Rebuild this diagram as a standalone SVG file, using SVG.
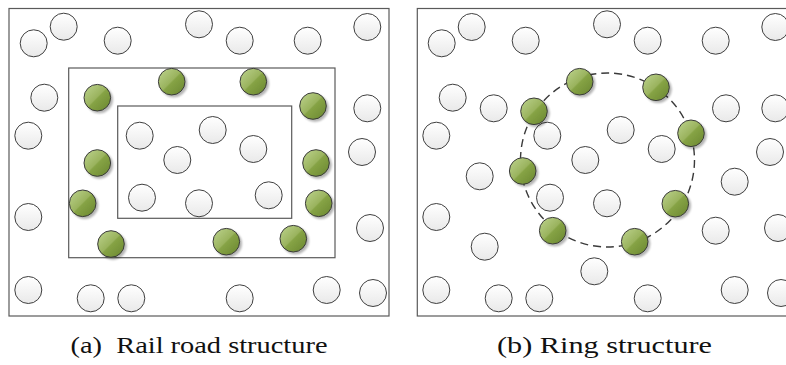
<svg xmlns="http://www.w3.org/2000/svg" width="786" height="365" viewBox="0 0 786 365">
<defs>
<linearGradient id="gw" x1="0" y1="0" x2="0" y2="1">
<stop offset="0" stop-color="#ffffff"/>
<stop offset="1" stop-color="#e9e9e9"/>
</linearGradient>
<linearGradient id="gg" x1="0.15" y1="0.15" x2="0.85" y2="0.85">
<stop offset="0" stop-color="#b3ca80"/>
<stop offset="0.47" stop-color="#9ab35e"/>
<stop offset="0.53" stop-color="#86a345"/>
<stop offset="1" stop-color="#728f36"/>
</linearGradient>
<filter id="sh" x="-30%" y="-30%" width="170%" height="170%">
<feGaussianBlur in="SourceAlpha" stdDeviation="1.2"/>
<feOffset dx="1.8" dy="1.8" result="b"/>
<feComponentTransfer><feFuncA type="linear" slope="0.3"/></feComponentTransfer>
<feMerge><feMergeNode/><feMergeNode in="SourceGraphic"/></feMerge>
</filter>
</defs>
<style>
.w{fill:url(#gw);stroke:#3f3f3f;stroke-width:1}
.g{fill:url(#gg);stroke:#3a3a3a;stroke-width:1;filter:url(#sh)}
.frame{fill:none;stroke:#5a5a5a;stroke-width:1.2}
.ring{fill:none;stroke:#3a3a3a;stroke-width:1.4;stroke-dasharray:8 5}
.cap{font-family:"Liberation Serif","DejaVu Serif",serif;font-size:23px;fill:#111}
</style>
<g id="panel-a">
<rect class="frame" x="9" y="8.5" width="380" height="307.5"/>
<rect class="frame" x="68.7" y="68" width="266.3" height="189.7"/>
<rect class="frame" x="117.7" y="106" width="174" height="112.3"/>
<g id="a-white">
<circle class="w" cx="33.7" cy="43.3" r="13.5"/>
<circle class="w" cx="63.7" cy="26.7" r="13.5"/>
<circle class="w" cx="117.7" cy="40.7" r="13.5"/>
<circle class="w" cx="199" cy="24.3" r="13.5"/>
<circle class="w" cx="239.7" cy="40.7" r="13.5"/>
<circle class="w" cx="307.7" cy="40.7" r="13.5"/>
<circle class="w" cx="367.3" cy="27" r="13.5"/>
<circle class="w" cx="44.3" cy="97.7" r="13.5"/>
<circle class="w" cx="28.3" cy="135.7" r="13.5"/>
<circle class="w" cx="367.3" cy="108.3" r="13.5"/>
<circle class="w" cx="362" cy="152" r="13.5"/>
<circle class="w" cx="28.3" cy="217" r="13.5"/>
<circle class="w" cx="370" cy="228" r="13.5"/>
<circle class="w" cx="28.3" cy="290" r="13.5"/>
<circle class="w" cx="90.7" cy="298.3" r="13.5"/>
<circle class="w" cx="131.3" cy="298.3" r="13.5"/>
<circle class="w" cx="239.7" cy="298.3" r="13.5"/>
<circle class="w" cx="326.7" cy="290" r="13.5"/>
<circle class="w" cx="373" cy="293" r="13.5"/>
<circle class="w" cx="139.7" cy="135.7" r="13.5"/>
<circle class="w" cx="212.7" cy="130" r="13.5"/>
<circle class="w" cx="177.3" cy="160" r="13.5"/>
<circle class="w" cx="253.3" cy="149" r="13.5"/>
<circle class="w" cx="142" cy="197.7" r="13.5"/>
<circle class="w" cx="199" cy="203.3" r="13.5"/>
<circle class="w" cx="268.7" cy="195.3" r="13.5"/>
</g>
<g id="a-green">
<circle class="g" cx="171.7" cy="81.7" r="13.3"/>
<circle class="g" cx="253.3" cy="81.7" r="13.3"/>
<circle class="g" cx="97.3" cy="97.7" r="13.3"/>
<circle class="g" cx="313" cy="106" r="13.3"/>
<circle class="g" cx="97.3" cy="163" r="13.3"/>
<circle class="g" cx="316" cy="163" r="13.3"/>
<circle class="g" cx="82.7" cy="203.3" r="13.3"/>
<circle class="g" cx="318.7" cy="203.3" r="13.3"/>
<circle class="g" cx="111" cy="244" r="13.3"/>
<circle class="g" cx="226.3" cy="241.7" r="13.3"/>
<circle class="g" cx="293.3" cy="238.7" r="13.3"/>
</g>
<text class="cap" x="199" y="353" text-anchor="middle" textLength="257" lengthAdjust="spacingAndGlyphs" xml:space="preserve">(a)  Rail road structure</text>
</g>
<g id="panel-b">
<rect class="frame" x="417.3" y="8.5" width="400" height="307.5"/>
<g id="connectors">
<circle class="ring" cx="607.5" cy="160" r="87"/>
</g>
<g id="b-white">
<circle class="w" cx="441.7" cy="43.3" r="13.5"/>
<circle class="w" cx="471.7" cy="27" r="13.5"/>
<circle class="w" cx="525.7" cy="40.7" r="13.5"/>
<circle class="w" cx="607" cy="24.3" r="13.5"/>
<circle class="w" cx="647.7" cy="40.7" r="13.5"/>
<circle class="w" cx="715.7" cy="40.7" r="13.5"/>
<circle class="w" cx="775.3" cy="27" r="13.5"/>
<circle class="w" cx="452.7" cy="97.7" r="13.5"/>
<circle class="w" cx="493.7" cy="108.3" r="13.5"/>
<circle class="w" cx="436.3" cy="135.7" r="13.5"/>
<circle class="w" cx="547.3" cy="135.7" r="13.5"/>
<circle class="w" cx="620.7" cy="130" r="13.5"/>
<circle class="w" cx="661.7" cy="149" r="13.5"/>
<circle class="w" cx="726" cy="108.3" r="13.5"/>
<circle class="w" cx="775.3" cy="108.3" r="13.5"/>
<circle class="w" cx="585.3" cy="160" r="13.5"/>
<circle class="w" cx="770" cy="152" r="13.5"/>
<circle class="w" cx="479.7" cy="176.3" r="13.5"/>
<circle class="w" cx="734.7" cy="181.7" r="13.5"/>
<circle class="w" cx="550" cy="197.7" r="13.5"/>
<circle class="w" cx="607" cy="203.3" r="13.5"/>
<circle class="w" cx="436.3" cy="217" r="13.5"/>
<circle class="w" cx="778" cy="228" r="13.5"/>
<circle class="w" cx="715.7" cy="230.7" r="13.5"/>
<circle class="w" cx="484.7" cy="246.7" r="13.5"/>
<circle class="w" cx="594.3" cy="271.3" r="13.5"/>
<circle class="w" cx="436.3" cy="290" r="13.5"/>
<circle class="w" cx="498.7" cy="298.3" r="13.5"/>
<circle class="w" cx="539.3" cy="298.3" r="13.5"/>
<circle class="w" cx="647.7" cy="298.3" r="13.5"/>
<circle class="w" cx="734.7" cy="290" r="13.5"/>
<circle class="w" cx="781" cy="293" r="13.5"/>
</g>
<g id="b-green">
<circle class="g" cx="579.7" cy="81.7" r="13.3"/>
<circle class="g" cx="656" cy="87.3" r="13.3"/>
<circle class="g" cx="534" cy="111.3" r="13.3"/>
<circle class="g" cx="691" cy="133.3" r="13.3"/>
<circle class="g" cx="522.7" cy="171" r="13.3"/>
<circle class="g" cx="675.3" cy="203.7" r="13.3"/>
<circle class="g" cx="552.7" cy="230.7" r="13.3"/>
<circle class="g" cx="634.7" cy="241.7" r="13.3"/>
</g>
<text class="cap" x="604.5" y="353" text-anchor="middle" textLength="215" lengthAdjust="spacingAndGlyphs">(b) Ring structure</text>
</g>
</svg>
